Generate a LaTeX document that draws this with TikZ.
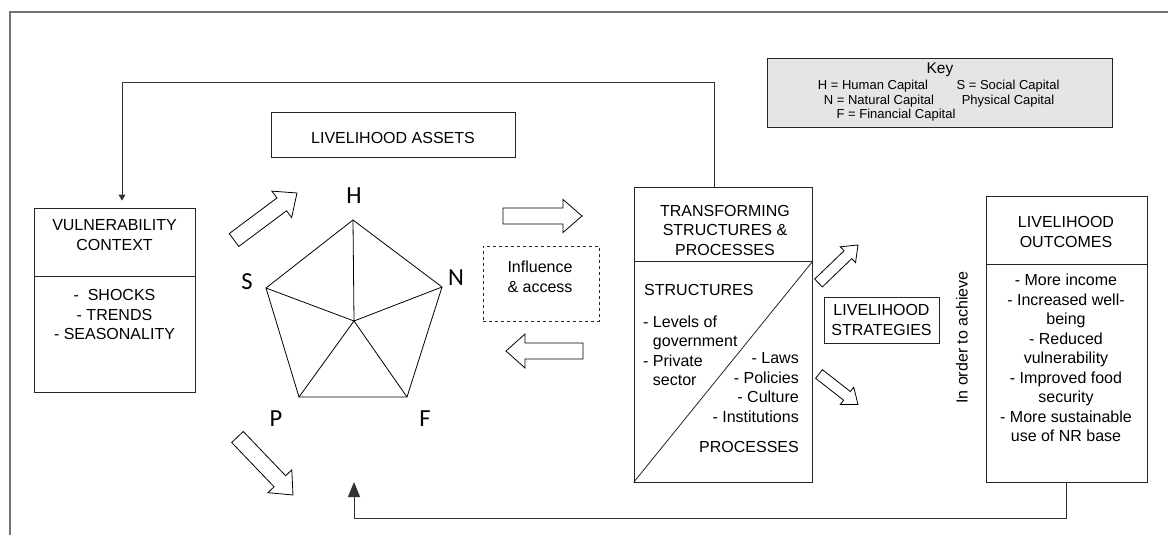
\documentclass[tikz,border=0pt]{standalone}
\usepackage{fontspec}
\setmainfont{Liberation Sans}
\newfontfamily\letterfont{Carlito}
\usetikzlibrary{calc,arrows.meta}

% hollow block arrow: tail, tip, shaft half-width, head half-width, head length
\newcommand\fatarrow[5]{%
  \path ($(#2)!#5!(#1)$) coordinate (fab);
  \draw[blockarrow] ($(#1)!#3!-90:(#2)$) -- ($(fab)!#3!90:(#1)$)
    -- ($(fab)!#4!90:(#1)$) -- (#2) -- ($(fab)!#4!-90:(#1)$)
    -- ($(fab)!#3!-90:(#1)$) -- ($(#1)!#3!90:(#2)$) -- cycle;}

\begin{document}
\begin{tikzpicture}[x=1pt,y=-1pt,
  box/.style={draw=black!85, line width=0.8pt, inner sep=0pt},
  txt/.style={font=\fontsize{16}{19.5}\selectfont, inner sep=0pt, align=center},
  keytxt/.style={font=\fontsize{13}{15}\selectfont, inner sep=0pt},
  capletter/.style={font=\letterfont\fontsize{24.5}{26}\selectfont, inner sep=0pt},
  fb/.style={draw=black!80, line width=1pt},
  blockarrow/.style={draw=black, line width=0.8pt, fill=white, line join=miter},
  frame/.style={draw=black!55, line width=1.4pt},
  pent/.style={draw=black, line width=0.8pt, line join=miter}]
\useasboundingbox (0,0) rectangle (1168,535);
\fill[white] (0,0) rectangle (1168,535);

% outer frame
\draw[frame] (1168,12) -- (10,12) -- (10,535);

% key
\node[box, fill=black!10, minimum width=345pt, minimum height=69pt] (key) at (939.5,92.5) {};
\node[keytxt, font=\fontsize{15.5}{17}\selectfont] (keyt) at (940,70) {Key};
\node[keytxt] (keyh) at (873,86.5) {H = Human Capital};
\node[keytxt] (keys) at (1008,86.5) {S = Social Capital};
\node[keytxt] (keyn) at (879,101) {N = Natural Capital};
\node[keytxt] (keyp) at (1008,101) {Physical Capital};
\node[keytxt] (keyf) at (896,115.5) {F = Financial Capital};

% livelihood assets
\node[box, minimum width=244pt, minimum height=45pt] (la) at (393,134.5) {};
\node[txt] (lat) at (393,138) {LIVELIHOOD ASSETS};

% vulnerability context
\node[box, minimum width=161pt, minimum height=184pt] (vc) at (114.5,300) {};
\draw[box] ($(vc.north west)+(0,69)$) -- ($(vc.north east)+(0,69)$);
\node[txt] (vct) at (114.5,235) {VULNERABILITY\\CONTEXT};
\node[txt] (vcl) at (114.5,314.5) {-\ \ SHOCKS\\- TRENDS\\- SEASONALITY};

% asset pentagon
\coordinate (pH) at (353,220);
\coordinate (pN) at (442,287);
\coordinate (pF) at (407,397);
\coordinate (pP) at (299,397);
\coordinate (pS) at (266,288);
\coordinate (pC) at (354,321);
\draw[pent] (pH) -- (pN) -- (pF) -- (pP) -- (pS) -- cycle;
\draw[pent] (pC) -- (pH) (pC) -- (pN) (pC) -- (pF) (pC) -- (pP) (pC) -- (pS);
\node[capletter] (lH) at (354,196) {H};
\node[capletter] (lS) at (247,282) {S};
\node[capletter] (lN) at (456,278) {N};
\node[capletter] (lP) at (276,419) {P};
\node[capletter] (lF) at (425,419) {F};

% influence and access
\node[box, dashed, minimum width=116pt, minimum height=75pt] (inf) at (541,283.5) {};
\node[txt] (inft) at (540,277) {Influence\\\& access};

% transforming structures and processes
\node[box, minimum width=178pt, minimum height=295pt] (ts) at (723,334.5) {};
\draw[box] ($(ts.north west)+(0,75)$) -- ($(ts.north east)+(0,75)$);
\draw[box] (ts.south west) -- ($(ts.north east)+(0,75)$);
\node[txt] (tst) at (725,230) {TRANSFORMING\\STRUCTURES \&\\PROCESSES};
\node[txt, anchor=west] (tss) at (644,290) {STRUCTURES};
\node[txt, anchor=west, align=left] (tsl) at (643,351) {- Levels of\\\phantom{- }government\\- Private\\\phantom{- }sector};
\node[txt, anchor=east, align=right] (tsr) at (799,387.5) {- Laws\\- Policies\\- Culture\\- Institutions};
\node[txt, anchor=east] (tsp) at (799,447) {PROCESSES};

% livelihood strategies
\node[box, minimum width=115pt, minimum height=46pt] (ls) at (881.5,320) {};
\node[txt] (lst) at (881.5,320) {LIVELIHOOD\\STRATEGIES};
\node[txt, rotate=90] (ach) at (962,337.5) {In order to achieve};

% livelihood outcomes
\node[box, minimum width=161pt, minimum height=286pt] (lo) at (1066.5,339) {};
\draw[box] ($(lo.north west)+(0,69)$) -- ($(lo.north east)+(0,69)$);
\node[txt] (lot) at (1066,232) {LIVELIHOOD\\OUTCOMES};
\node[txt] (lol) at (1066,358) {- More income\\- Increased well-\\being\\- Reduced\\vulnerability\\- Improved food\\security\\- More sustainable\\use of NR base};

% feedback connectors
\draw[fb, -{Triangle[length=6pt,width=7pt]}] ([xshift=-9pt]ts.north) -- ++(0,-104) -| ([xshift=7.5pt,yshift=7pt]vc.north);
\coordinate (fbend) at (354,482);
\draw[fb, -{Triangle[length=15pt,width=12pt]}] (lo.south) -- ++(0,36) -| (fbend);

% hollow block arrows
\coordinate (a1t) at (234,240);  \coordinate (a1h) at (297,193);
\coordinate (a2t) at (237.5,437); \coordinate (a2h) at (293,495);
\coordinate (a3t) at (503,216);  \coordinate (a3h) at (582,216);
\coordinate (a4t) at (583,351);  \coordinate (a4h) at (506,351);
\coordinate (a5t) at (818.5,283); \coordinate (a5h) at (858,245);
\coordinate (a6t) at (819,374);  \coordinate (a6h) at (858,404.5);
\fatarrow{a1t}{a1h}{8pt}{16.5pt}{19pt}
\fatarrow{a2t}{a2h}{8pt}{16.5pt}{19pt}
\fatarrow{a3t}{a3h}{8pt}{16.5pt}{19pt}
\fatarrow{a4t}{a4h}{8pt}{17pt}{19pt}
\fatarrow{a5t}{a5h}{5.5pt}{11pt}{14pt}
\fatarrow{a6t}{a6h}{5.5pt}{11pt}{14pt}
\end{tikzpicture}
\end{document}
